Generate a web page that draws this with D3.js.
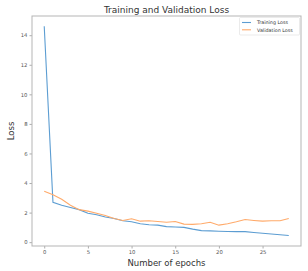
<!DOCTYPE html>
<html>
<head>
<meta charset="utf-8">
<script src="https://cdn.jsdelivr.net/npm/d3@7"></script>
<style>
  body { margin: 0; background: #fff; }
  svg { display: block; font-family: "DejaVu Sans", sans-serif; }
</style>
</head>
<body>
<svg id="chart" width="308" height="271"></svg>
<script>
// epochs 0..28
var epochs = d3.range(0, 29);
var trainLoss = [14.6, 2.7, 2.5, 2.35, 2.2, 1.95, 1.85, 1.7, 1.6, 1.45,
                 1.38, 1.25, 1.18, 1.15, 1.05, 1.03, 1.0, 0.88, 0.78, 0.76,
                 0.74, 0.72, 0.71, 0.71, 0.65, 0.6, 0.55, 0.5, 0.45];
var valLoss = [3.45, 3.2, 2.9, 2.5, 2.2, 2.1, 1.95, 1.8, 1.6, 1.47,
               1.58, 1.42, 1.45, 1.4, 1.35, 1.4, 1.22, 1.2, 1.25, 1.35,
               1.15, 1.25, 1.38, 1.53, 1.47, 1.42, 1.45, 1.45, 1.6];
var xTicks = [0, 5, 10, 15, 20, 25];
var yTicks = [0, 2, 4, 6, 8, 10, 12, 14];
var seriesNames = ["Training Loss", "Validation Loss"];
var colors = ["#5c9dd2", "#ffaa6a"];

var L = 32, R = 301, T = 16, B = 246;
var svg = d3.select("#chart");

var x = d3.scaleLinear().domain([-1.4, 29.4]).range([L, R]);
var y = d3.scaleLinear().domain([-0.26, 15.3]).range([B, T]);

// axes
var xAxis = svg.append("g")
  .attr("transform", "translate(0," + B + ")")
  .call(d3.axisBottom(x).tickValues(xTicks).tickSize(2.5).tickPadding(2).tickSizeOuter(0));
var yAxis = svg.append("g")
  .attr("transform", "translate(" + L + ",0)")
  .call(d3.axisLeft(y).tickValues(yTicks).tickSize(2.5).tickPadding(2).tickSizeOuter(0));
[xAxis, yAxis].forEach(function(g){
  g.select(".domain").remove();
  g.selectAll("line").attr("stroke", "#888").attr("stroke-width", 0.7);
  g.selectAll("text").attr("fill", "#555").style("font-size", "5.3px")
    .style("font-family", "DejaVu Sans, sans-serif");
});

// frame
svg.append("rect")
  .attr("x", L).attr("y", T).attr("width", R - L).attr("height", B - T)
  .attr("fill", "none").attr("stroke", "#b5b5b5").attr("stroke-width", 1);

// lines
var line = d3.line()
  .x(function(d, i){ return x(epochs[i]); })
  .y(function(d){ return y(d); });
[trainLoss, valLoss].forEach(function(s, k){
  svg.append("path")
    .datum(s)
    .attr("d", line)
    .attr("fill", "none")
    .attr("stroke", colors[k])
    .attr("stroke-width", 1.1);
});

// title and labels
svg.append("text")
  .attr("x", (L + R) / 2).attr("y", 13)
  .attr("text-anchor", "middle")
  .attr("fill", "#333")
  .style("font-size", "9px")
  .text("Training and Validation Loss");
svg.append("text")
  .attr("x", (L + R) / 2).attr("y", 266)
  .attr("text-anchor", "middle")
  .attr("fill", "#333")
  .style("font-size", "8.5px")
  .text("Number of epochs");
svg.append("text")
  .attr("transform", "translate(14," + ((T + B) / 2) + ") rotate(-90)")
  .attr("text-anchor", "middle")
  .attr("fill", "#333")
  .style("font-size", "8.5px")
  .text("Loss");

// legend
var lg = svg.append("g").attr("transform", "translate(239.5,17.5)");
lg.append("rect")
  .attr("width", 60).attr("height", 17.5)
  .attr("fill", "#fff").attr("stroke", "#ddd").attr("stroke-width", 0.6).attr("rx", 1);
seriesNames.forEach(function(name, k){
  lg.append("line")
    .attr("x1", 2.5).attr("x2", 11.5)
    .attr("y1", 5 + k * 7.3).attr("y2", 5 + k * 7.3)
    .attr("stroke", colors[k]).attr("stroke-width", 1.1);
  lg.append("text")
    .attr("x", 17.5).attr("y", 6.7 + k * 7.3)
    .attr("fill", "#333")
    .style("font-size", "4.8px")
    .text(name);
});
</script>
</body>
</html>
